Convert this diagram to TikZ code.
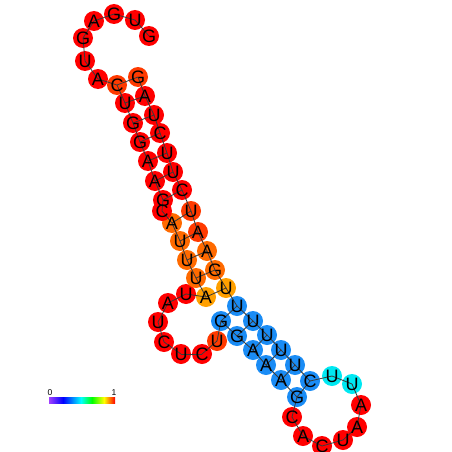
\documentclass[tikz,border=0pt]{standalone}
\usepackage{fontspec}
\setsansfont{Liberation Sans}
\usetikzlibrary{positioning}
\definecolor{rd}{HTML}{FF0000}
\definecolor{ord}{HTML}{FF3A00}
\definecolor{org}{HTML}{FF6A00}
\definecolor{amb}{HTML}{FFA000}
\definecolor{blu}{HTML}{1A8CF5}
\definecolor{cya}{HTML}{00E8F2}
\definecolor{bondgray}{HTML}{3A3A3A}
\definecolor{scalepurple}{HTML}{A040FF}
\tikzset{
  base/.style={circle, minimum size=20pt, inner sep=0pt, draw=none},
  letter/.style={inner sep=0pt, font=\fontsize{18}{18}\sffamily},
  bond/.style={bondgray, line width=0.8pt},
  tick/.style={inner sep=0pt, font=\fontsize{8.5}{8.5}\sffamily}
}
% index/x/y/nucleotide/colour
\def\bases{1/138/77/G/ord, 2/145/96/A/rd, 3/154/115/U/rd, 4/160/133/C/rd,
  5/167/153/U/rd, 6/173/172/U/rd, 7/182/190/C/rd, 8/191/211/U/ord,
  9/198/232/A/ord, 10/207/251/A/org, 11/215/270/G/org, 12/226/288/U/amb,
  13/237/306/U/blu, 14/253/321/U/blu, 15/267/335/U/blu, 16/281/350/U/blu,
  17/295/365/U/blu, 18/310/381/C/blu, 19/332/376/U/cya, 20/352/384/U/cya,
  21/361/405/A/rd, 22/357/427/A/rd, 23/343/440/U/rd, 24/322/446/C/rd,
  25/303/436/A/rd, 26/292/417/C/rd, 27/297/397/G/blu, 28/281/380/A/blu,
  29/266/365/A/blu, 30/253/350/A/blu, 31/237/336/G/blu, 32/221/321/G/blu,
  33/217/341/U/ord, 34/202/354/C/rd, 35/181/354/U/rd, 36/164/342/C/rd,
  37/158/322/U/rd, 38/168/303/A/rd, 39/186/294/U/rd, 40/206/297/A/amb,
  41/196/278/U/org, 42/187/260/U/org, 43/180/241/U/org, 44/172/223/A/org,
  45/162/211/C/rd, 46/163/200/G/rd, 47/155/181/A/rd, 48/148/161/A/rd,
  49/140/142/G/rd, 50/133/123/G/rd, 51/125/103/U/rd, 52/117/85/C/ord,
  53/98/79/A/rd, 54/85/61/U/rd, 55/83/38/G/rd, 56/94/21/A/rd,
  57/114/14/G/rd, 58/135/20/U/rd, 59/149/36/G/rd}
\begin{document}
\begin{tikzpicture}[x=1pt, y=-1pt]
  \useasboundingbox (0,0) rectangle (452,452);

  % coloured discs
  \foreach \i/\px/\py/\l/\c in \bases
    \node[base, fill=\c] (b\i) at (\px,\py) {};

  % backbone
  \foreach \i [evaluate=\i as \j using int(\i+1)] in {1,...,58}
    \draw[bond] (b\i.center) -- (b\j.center);

  % base pairs
  \foreach \i/\j in {1/52, 2/51, 3/50, 4/49, 5/48, 6/47, 7/46, 8/44, 9/43,
      10/42, 11/41, 12/40, 13/32, 14/31, 15/30, 16/29, 17/28, 18/27}
    \draw[bond] (b\i.center) -- (b\j.center);

  % nucleotides
  \foreach \i/\px/\py/\l/\c in \bases
    \node[letter] (t\i) at (b\i) {\l};

  % colour scale
  \shade[left color=scalepurple, right color=blue] (49,397) rectangle (63,403);
  \shade[left color=blue, right color=cyan] (63,397) rectangle (81,403);
  \shade[left color=cyan, right color=green] (81,397) rectangle (92,403);
  \shade[left color=green, right color=yellow] (92,397) rectangle (104,403);
  \shade[left color=yellow, right color=red] (104,397) rectangle (115,403);
  \node[tick] (lo) at (50,392.5) {0};
  \node[tick] (hi) at (114,392.5) {1};
\end{tikzpicture}
\end{document}
